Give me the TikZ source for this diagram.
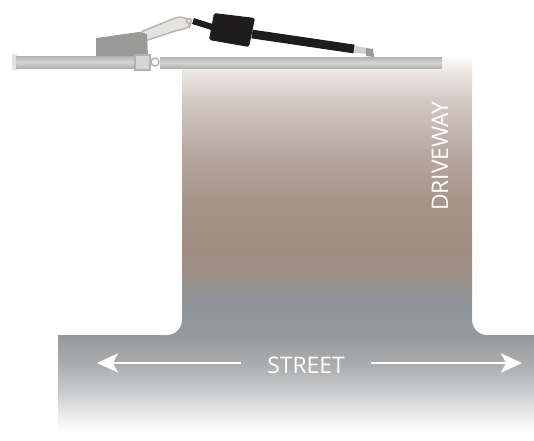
\documentclass[tikz,border=0pt]{standalone}
\usepackage{fontspec}
\setmainfont{Open Sans}
\usetikzlibrary{arrows.meta, positioning, calc}
\definecolor{gatebar}{HTML}{D3D6D4}
\definecolor{gateedge}{HTML}{B2B3B0}
\definecolor{motorgray}{HTML}{9A9A98}
\definecolor{armlight}{HTML}{E4E3E0}
\definecolor{armedge}{HTML}{B5B2AD}
\definecolor{actblack}{HTML}{1E1C1D}
\definecolor{roadA}{HTML}{EFE9E6}
\definecolor{roadB}{HTML}{D3CAC5}
\definecolor{roadC}{HTML}{B8AAA2}
\definecolor{roadD}{HTML}{A89489}
\definecolor{roadE}{HTML}{A18C80}
\definecolor{roadF}{HTML}{9C9088}
\definecolor{roadG}{HTML}{8F9499}
\definecolor{roadH}{HTML}{95989B}
\definecolor{roadI}{HTML}{ABACAE}
\definecolor{roadJ}{HTML}{CDCECF}
\definecolor{roadK}{HTML}{F2F2F2}
\pgfdeclareverticalshading{roadfade}{100bp}{
  color(0bp)=(white); color(25bp)=(white); color(26.6bp)=(roadK);
  color(30bp)=(roadJ); color(34bp)=(roadI); color(38bp)=(roadH);
  color(42.5bp)=(roadG); color(45.8bp)=(roadF); color(49.1bp)=(roadE);
  color(55.8bp)=(roadD); color(62.4bp)=(roadC); color(69bp)=(roadB);
  color(73bp)=(roadA); color(75bp)=(white); color(100bp)=(white)}
\begin{document}
\begin{tikzpicture}[x=0.02cm, y=-0.02cm,
  roadarrow/.style={-{Stealth[length=12pt, width=11pt, inset=3pt]}, white, line width=1pt},
  roadlabel/.style={text=white, font=\fontsize{13}{15}\selectfont},
  gaterod/.style={top color=gateedge, bottom color=gateedge, middle color=gatebar},
  armpart/.style={draw=armedge, fill=armlight, line width=0.8pt}
]
\useasboundingbox (0,0) rectangle (534,440);

% road surface
\shade[shading=roadfade]
  (182,55) -- (182,320) arc[start angle=0, end angle=90, radius=15] -- (58,335)
  -- (58,432) -- (534,432) -- (534,335) -- (487,335)
  arc[start angle=90, end angle=180, radius=15] -- (472,55) -- cycle;

% gate
\fill[armlight] (12,54) rectangle (17,70);
\shade[gaterod] (16,56) rectangle (135,68);
\shade[gaterod] (160,57) rectangle (442,68);
\draw[armpart, fill=white] (155,62) circle (4);

% opener arm
\draw[armpart, rounded corners=3pt] (138,33) -- (180,16) -- (192,21) -- (189,28) -- (178,30) -- (142,42) -- cycle;
\draw[armpart] (189,21) circle (2.5);
\fill[motorgray] (96,38) -- (139,32) -- (147,34) -- (148,56) -- (96,56) -- cycle;
\draw[armpart, fill=gatebar] (135,55) rectangle (150,70);

% actuator
\draw[actblack, line width=3.5pt] (193,21) -- (212,27);
\draw[actblack, line width=5pt] (252,34) -- (354,49);
\fill[actblack, rounded corners=1pt] (214,13) -- (255,18) -- (249,47) -- (209,40) -- cycle;
\fill[armlight!80!gray] (355,46) -- (367,48) -- (367,54) -- (354,53) -- cycle;
\fill[motorgray] (366,48) -- (373,49) -- (374,57) -- (366,56) -- cycle;

% labels
\node[roadlabel, inner xsep=15pt, inner ysep=0pt] (street) at (306,365) {STREET};
\node[roadlabel, rotate=90] (driveway) at (440,156) {DRIVEWAY};
\coordinate (streetwest) at (97,363);
\coordinate (streeteast) at (522,363);
\draw[roadarrow] (street.west |- streetwest) -- (streetwest);
\draw[roadarrow] (street.east |- streeteast) -- (streeteast);
\end{tikzpicture}
\end{document}
